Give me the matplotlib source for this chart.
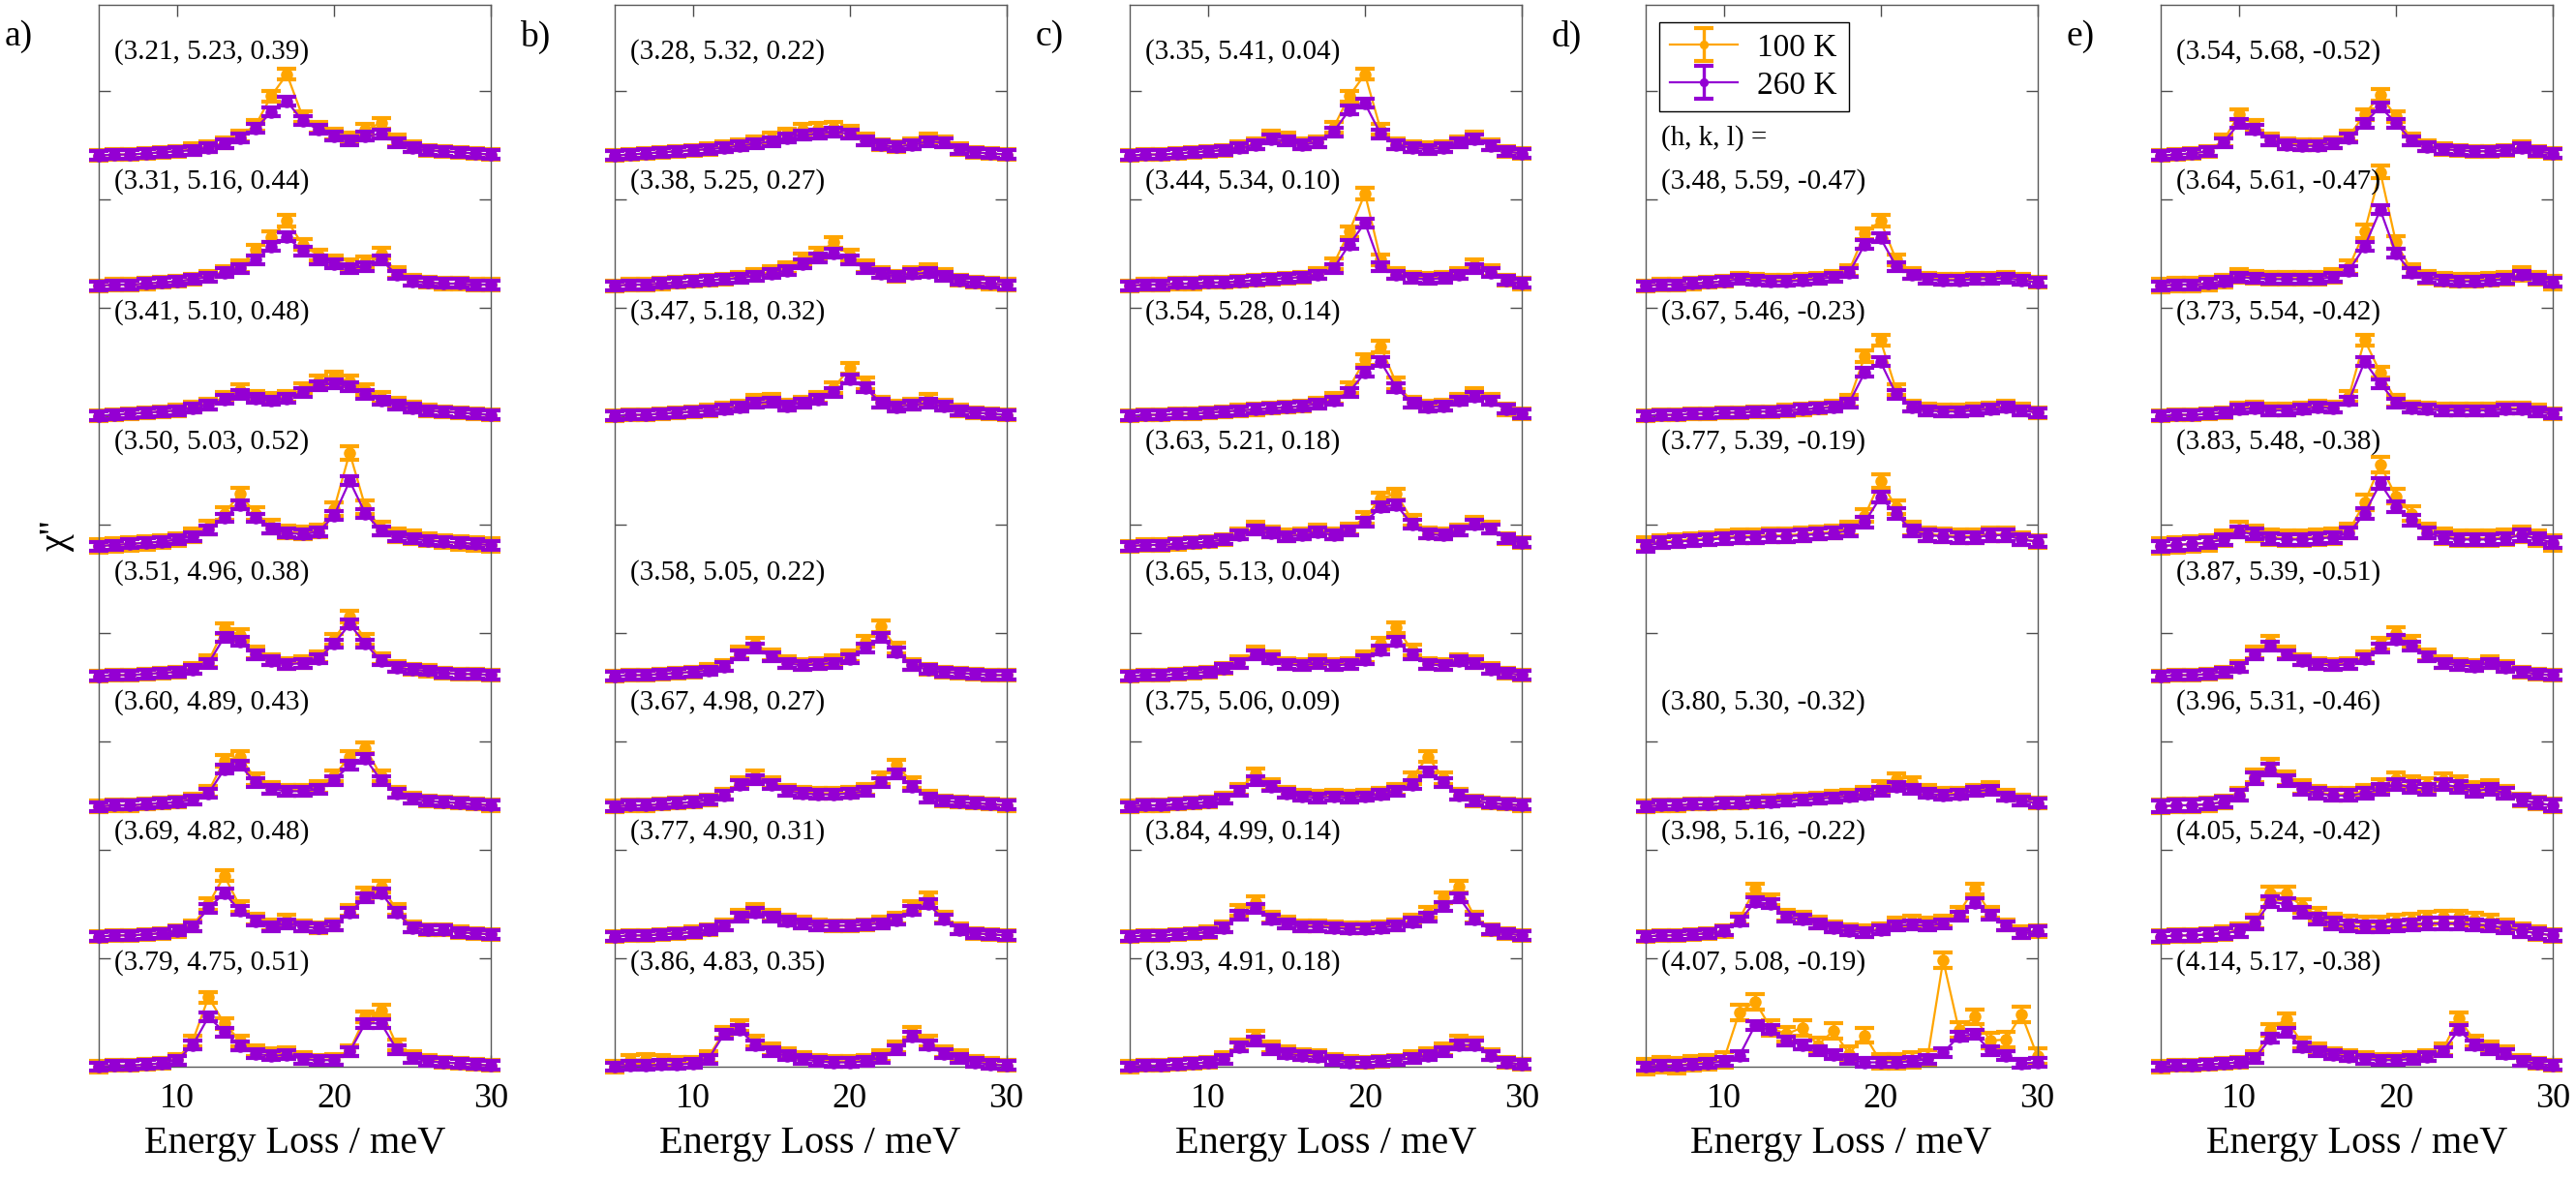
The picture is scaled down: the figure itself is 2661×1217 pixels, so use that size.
import numpy as np
import matplotlib.pyplot as plt

plt.rcParams["font.family"] = "serif"
plt.rcParams["font.serif"] = ["Liberation Serif", "DejaVu Serif"]

# energy grid of the read-off values (meV)
energy = list(range(5, 31))

# (h, k, l) of each cut, top slot first; None marks an empty slot
hkl_a = ["(3.21, 5.23, 0.39)", "(3.31, 5.16, 0.44)", "(3.41, 5.10, 0.48)", "(3.50, 5.03, 0.52)",
         "(3.51, 4.96, 0.38)", "(3.60, 4.89, 0.43)", "(3.69, 4.82, 0.48)", "(3.79, 4.75, 0.51)"]
hkl_b = ["(3.28, 5.32, 0.22)", "(3.38, 5.25, 0.27)", "(3.47, 5.18, 0.32)", None,
         "(3.58, 5.05, 0.22)", "(3.67, 4.98, 0.27)", "(3.77, 4.90, 0.31)", "(3.86, 4.83, 0.35)"]
hkl_c = ["(3.35, 5.41, 0.04)", "(3.44, 5.34, 0.10)", "(3.54, 5.28, 0.14)", "(3.63, 5.21, 0.18)",
         "(3.65, 5.13, 0.04)", "(3.75, 5.06, 0.09)", "(3.84, 4.99, 0.14)", "(3.93, 4.91, 0.18)"]
hkl_d = [None, "(3.48, 5.59, -0.47)", "(3.67, 5.46, -0.23)", "(3.77, 5.39, -0.19)", None,
         "(3.80, 5.30, -0.32)", "(3.98, 5.16, -0.22)", "(4.07, 5.08, -0.19)"]
hkl_e = ["(3.54, 5.68, -0.52)", "(3.64, 5.61, -0.47)", "(3.73, 5.54, -0.42)", "(3.83, 5.48, -0.38)",
         "(3.87, 5.39, -0.51)", "(3.96, 5.31, -0.46)", "(4.05, 5.24, -0.42)", "(4.14, 5.17, -0.38)"]

# chi'' above each baseline, in hundredths of a tick step, 5..30 meV
a_260 = [
    [0, 1, 1, 2, 3, 4, 5, 7, 11, 16, 25, 40, 50, 32, 24, 18, 14, 18, 20, 12, 7, 5, 4, 3, 2, 1],
    [0, 1, 1, 2, 3, 4, 6, 8, 12, 16, 24, 36, 45, 32, 24, 20, 16, 18, 24, 10, 4, 3, 2, 2, 1, 1],
    [0, 1, 2, 3, 4, 5, 7, 10, 15, 20, 16, 14, 16, 22, 28, 30, 27, 20, 14, 10, 7, 5, 4, 3, 2, 1],
    [0, 1, 2, 3, 4, 6, 9, 15, 26, 38, 26, 16, 12, 11, 13, 28, 60, 30, 14, 9, 7, 5, 4, 3, 2, 1],
    [0, 1, 1, 2, 3, 4, 6, 12, 36, 32, 20, 14, 11, 12, 16, 30, 48, 30, 14, 8, 6, 5, 3, 2, 2, 1],
    [0, 1, 1, 2, 3, 4, 6, 12, 34, 38, 22, 16, 14, 14, 16, 24, 38, 44, 24, 12, 7, 5, 4, 3, 2, 1],
    [0, 1, 1, 2, 3, 5, 9, 26, 40, 24, 14, 9, 12, 9, 8, 10, 22, 36, 40, 22, 8, 6, 6, 4, 3, 2],
    [0, 1, 1, 2, 3, 6, 20, 46, 32, 19, 12, 10, 11, 7, 6, 6, 14, 40, 40, 16, 8, 5, 4, 3, 2, 1],
]
a_100 = [
    [0, 1, 1, 2, 3, 4, 6, 8, 12, 18, 28, 55, 75, 36, 26, 20, 16, 24, 30, 14, 8, 5, 4, 3, 2, 1],
    [0, 1, 1, 2, 3, 4, 6, 9, 13, 18, 33, 45, 60, 38, 28, 23, 19, 22, 30, 12, 5, 3, 2, 2, 1, 1],
    [0, 1, 2, 3, 4, 5, 8, 11, 17, 24, 18, 16, 18, 25, 32, 36, 32, 24, 17, 12, 8, 5, 4, 3, 2, 1],
    [0, 1, 2, 3, 4, 6, 10, 17, 30, 48, 30, 18, 13, 12, 14, 34, 86, 36, 16, 10, 8, 6, 4, 3, 2, 1],
    [0, 1, 1, 2, 3, 4, 7, 14, 44, 38, 22, 15, 12, 13, 18, 34, 55, 34, 16, 9, 6, 5, 3, 2, 2, 1],
    [0, 1, 1, 2, 3, 4, 7, 14, 42, 46, 25, 17, 15, 15, 18, 28, 46, 54, 28, 13, 8, 5, 4, 3, 2, 1],
    [0, 1, 1, 2, 3, 5, 10, 30, 56, 28, 16, 11, 15, 10, 8, 11, 24, 40, 46, 25, 9, 6, 6, 4, 3, 2],
    [0, 1, 1, 2, 3, 7, 24, 64, 40, 24, 15, 12, 13, 8, 6, 7, 15, 46, 52, 20, 9, 6, 4, 3, 2, 1],
]
b_260 = [
    [0, 1, 2, 3, 4, 5, 6, 7, 9, 11, 13, 16, 19, 20, 22, 20, 14, 10, 8, 10, 13, 12, 6, 3, 2, 1],
    [0, 1, 1, 2, 3, 4, 5, 6, 7, 9, 11, 14, 20, 26, 30, 24, 16, 11, 9, 11, 12, 9, 5, 3, 2, 1],
    [0, 1, 1, 2, 3, 4, 5, 6, 8, 12, 13, 9, 12, 15, 22, 34, 26, 12, 8, 10, 12, 9, 5, 3, 2, 1],
    None,
    [0, 1, 1, 2, 3, 4, 5, 9, 20, 26, 18, 12, 10, 11, 12, 16, 26, 36, 22, 10, 6, 4, 3, 2, 1, 1],
    [0, 1, 1, 2, 3, 4, 6, 10, 20, 25, 20, 14, 12, 11, 11, 12, 14, 22, 30, 18, 8, 5, 4, 3, 2, 1],
    [0, 1, 1, 2, 3, 4, 6, 10, 18, 22, 18, 14, 12, 10, 10, 10, 11, 12, 15, 24, 30, 16, 6, 3, 2, 1],
    [0, 1, 1, 2, 2, 3, 7, 30, 34, 20, 14, 10, 7, 5, 4, 4, 5, 8, 16, 28, 20, 12, 8, 4, 2, 1],
]
b_100 = [
    [0, 1, 2, 3, 4, 5, 6, 8, 10, 13, 16, 20, 24, 25, 26, 22, 15, 10, 8, 11, 15, 13, 6, 3, 2, 1],
    [0, 1, 1, 2, 3, 4, 5, 6, 8, 10, 13, 17, 25, 30, 40, 28, 18, 12, 9, 12, 15, 10, 5, 3, 2, 1],
    [0, 1, 1, 2, 3, 4, 5, 7, 9, 14, 15, 10, 13, 17, 26, 44, 30, 13, 9, 11, 15, 10, 5, 3, 2, 1],
    None,
    [0, 1, 1, 2, 3, 4, 6, 10, 22, 30, 20, 13, 11, 12, 14, 19, 32, 46, 26, 11, 6, 4, 3, 2, 1, 1],
    [0, 1, 1, 2, 3, 4, 6, 11, 22, 28, 22, 15, 13, 12, 12, 13, 16, 26, 38, 22, 9, 5, 4, 3, 2, 1],
    [0, 1, 1, 2, 3, 4, 6, 11, 20, 25, 20, 15, 13, 11, 10, 10, 11, 13, 17, 28, 36, 18, 7, 3, 2, 1],
    [0, 6, 7, 6, 4, 4, 9, 32, 38, 24, 16, 12, 8, 6, 5, 5, 6, 10, 18, 32, 24, 14, 10, 5, 3, 1],
]
c_260 = [
    [0, 1, 1, 2, 3, 4, 5, 7, 10, 15, 14, 10, 12, 22, 42, 48, 20, 10, 7, 6, 7, 12, 15, 9, 4, 2],
    [0, 1, 1, 2, 2, 3, 3, 4, 5, 6, 7, 8, 10, 16, 38, 58, 18, 10, 7, 6, 7, 10, 16, 12, 5, 2],
    [0, 1, 1, 2, 2, 3, 4, 5, 6, 7, 8, 9, 11, 14, 22, 40, 50, 26, 12, 8, 9, 14, 18, 14, 6, 2],
    [0, 1, 1, 2, 3, 4, 6, 10, 15, 12, 9, 10, 13, 10, 14, 22, 36, 38, 20, 11, 10, 14, 20, 16, 7, 3],
    [0, 1, 1, 2, 3, 4, 7, 12, 20, 16, 11, 10, 12, 10, 11, 15, 24, 32, 20, 11, 10, 14, 12, 6, 3, 1],
    [0, 1, 1, 2, 3, 4, 7, 14, 24, 18, 12, 9, 8, 9, 8, 9, 11, 14, 20, 32, 22, 10, 5, 3, 2, 1],
    [0, 1, 1, 2, 3, 4, 8, 20, 26, 16, 12, 9, 9, 8, 7, 7, 8, 10, 13, 18, 28, 36, 16, 6, 3, 1],
    [0, 1, 1, 2, 3, 4, 7, 18, 24, 16, 12, 10, 9, 6, 4, 4, 5, 6, 8, 10, 14, 20, 20, 10, 4, 2],
]
c_100 = [
    [0, 1, 1, 2, 3, 4, 5, 8, 11, 18, 16, 11, 13, 26, 55, 75, 24, 11, 8, 7, 8, 13, 17, 10, 4, 2],
    [0, 1, 1, 2, 2, 3, 3, 4, 5, 6, 7, 8, 11, 20, 50, 85, 24, 11, 8, 7, 8, 11, 19, 14, 5, 2],
    [0, 1, 1, 2, 2, 3, 4, 5, 6, 7, 8, 9, 12, 16, 26, 52, 64, 30, 13, 9, 10, 15, 21, 15, 6, 2],
    [0, 1, 1, 2, 3, 4, 6, 11, 17, 13, 10, 11, 15, 11, 16, 26, 44, 48, 24, 12, 11, 15, 22, 17, 7, 3],
    [0, 1, 1, 2, 3, 4, 7, 13, 22, 18, 12, 11, 14, 11, 12, 18, 30, 45, 24, 12, 11, 15, 13, 7, 3, 1],
    [0, 1, 1, 2, 3, 4, 8, 16, 30, 20, 13, 10, 9, 10, 9, 10, 12, 16, 26, 46, 26, 11, 5, 3, 2, 1],
    [0, 1, 1, 2, 3, 4, 9, 24, 32, 18, 13, 10, 10, 9, 8, 8, 9, 11, 15, 22, 36, 46, 18, 6, 3, 1],
    [0, 1, 1, 2, 3, 4, 8, 20, 28, 18, 14, 11, 10, 7, 5, 4, 5, 6, 9, 12, 16, 24, 22, 11, 4, 2],
]
d_260 = [
    None,
    [0, 1, 1, 2, 3, 4, 6, 5, 4, 4, 5, 6, 8, 12, 38, 44, 18, 10, 6, 5, 5, 6, 6, 7, 5, 3],
    [0, 1, 1, 2, 2, 3, 3, 4, 4, 5, 6, 7, 8, 12, 40, 50, 20, 8, 5, 4, 4, 5, 6, 8, 5, 3],
    [0, 3, 4, 5, 6, 7, 8, 8, 9, 9, 10, 11, 12, 14, 22, 45, 30, 14, 10, 9, 8, 8, 10, 10, 6, 4],
    None,
    [0, 1, 1, 2, 2, 3, 3, 4, 4, 5, 6, 7, 8, 9, 11, 14, 18, 16, 12, 10, 11, 14, 15, 9, 5, 3],
    [0, 1, 1, 2, 3, 5, 14, 32, 30, 18, 16, 12, 8, 5, 4, 6, 10, 11, 10, 12, 19, 31, 20, 10, 3, 5],
    [0, 1, 1, 2, 3, 5, 10, 38, 34, 24, 20, 15, 11, 7, 4, 4, 4, 5, 7, 13, 28, 30, 15, 10, 3, 4],
]
d_100 = [
    None,
    [0, 1, 1, 2, 3, 4, 7, 6, 5, 5, 6, 7, 9, 14, 48, 60, 24, 11, 7, 6, 6, 7, 7, 8, 6, 3],
    [0, 1, 1, 2, 2, 3, 3, 4, 4, 5, 6, 7, 9, 14, 55, 70, 24, 9, 6, 5, 5, 6, 7, 9, 6, 3],
    [2, 4, 5, 6, 7, 8, 9, 9, 10, 10, 11, 12, 13, 16, 28, 60, 36, 16, 11, 10, 9, 9, 11, 11, 7, 4],
    None,
    [0, 1, 1, 2, 2, 3, 3, 4, 5, 6, 7, 8, 9, 10, 13, 18, 25, 22, 15, 12, 12, 15, 17, 10, 6, 3],
    [0, 1, 1, 2, 3, 5, 16, 44, 34, 20, 18, 13, 9, 6, 5, 7, 12, 14, 12, 14, 22, 44, 22, 11, 4, 5],
    [0, 2, 1, 3, 4, 6, 50, 60, 36, 30, 36, 20, 33, 12, 29, 5, 5, 6, 8, 98, 34, 46, 24, 25, 48, 10],
]
e_260 = [
    [0, 1, 2, 4, 12, 30, 24, 14, 10, 9, 9, 11, 16, 30, 45, 30, 14, 8, 6, 5, 4, 4, 5, 7, 4, 2],
    [0, 1, 1, 2, 4, 8, 7, 6, 6, 6, 6, 8, 14, 36, 70, 30, 12, 7, 5, 4, 4, 5, 6, 10, 6, 3],
    [0, 1, 1, 2, 3, 6, 7, 5, 5, 6, 8, 7, 14, 50, 30, 12, 7, 6, 5, 5, 5, 5, 6, 6, 4, 2],
    [0, 1, 2, 3, 6, 13, 11, 7, 6, 6, 7, 8, 12, 30, 58, 36, 24, 12, 8, 6, 6, 6, 7, 10, 7, 3],
    [0, 1, 1, 2, 4, 8, 20, 28, 20, 14, 11, 10, 11, 16, 26, 34, 28, 18, 12, 10, 9, 12, 8, 4, 2, 1],
    [0, 1, 1, 2, 4, 10, 26, 34, 24, 16, 12, 10, 10, 12, 16, 20, 18, 16, 20, 18, 14, 16, 12, 6, 3, 1],
    [0, 1, 1, 2, 3, 5, 12, 32, 30, 22, 16, 12, 10, 9, 9, 10, 11, 12, 12, 12, 11, 10, 8, 5, 3, 1],
    [0, 1, 1, 2, 3, 4, 8, 26, 32, 18, 14, 11, 9, 7, 6, 6, 7, 9, 14, 34, 20, 16, 12, 5, 3, 1],
]
e_100 = [
    [0, 1, 2, 4, 14, 38, 28, 15, 11, 10, 10, 12, 18, 38, 56, 36, 15, 9, 6, 5, 4, 4, 5, 8, 4, 2],
    [0, 1, 1, 2, 4, 9, 8, 7, 7, 7, 7, 9, 17, 50, 105, 40, 14, 8, 6, 5, 5, 6, 7, 11, 7, 3],
    [0, 1, 1, 2, 3, 7, 8, 6, 6, 7, 9, 8, 18, 70, 40, 14, 8, 7, 6, 6, 6, 6, 7, 7, 5, 2],
    [0, 1, 2, 3, 7, 15, 12, 8, 7, 7, 8, 9, 14, 40, 75, 46, 30, 14, 9, 7, 7, 7, 8, 11, 7, 3],
    [0, 1, 1, 2, 4, 9, 22, 32, 22, 15, 12, 11, 12, 18, 30, 40, 32, 20, 13, 11, 10, 13, 9, 4, 2, 1],
    [0, 1, 1, 2, 4, 11, 28, 38, 26, 18, 13, 11, 11, 14, 19, 25, 22, 20, 24, 22, 16, 18, 13, 6, 3, 1],
    [0, 1, 1, 2, 3, 6, 14, 40, 40, 28, 20, 15, 13, 12, 12, 14, 15, 17, 18, 18, 16, 14, 10, 6, 3, 1],
    [0, 1, 1, 2, 3, 4, 9, 34, 44, 22, 16, 12, 10, 8, 7, 7, 8, 10, 16, 45, 24, 18, 14, 6, 3, 1],
]

# typical half-length of the error bars, same units, one per slot
err_a_260 = [4, 4, 4, 4, 4, 4, 4, 4]
err_a_100 = [5, 5, 5, 6, 5, 5, 5, 5]
err_b_260 = [4, 4, 4, 4, 4, 4, 4, 4]
err_b_100 = [5, 5, 5, 5, 5, 5, 5, 5]
err_c_260 = [4, 4, 4, 4, 4, 4, 4, 4]
err_c_100 = [5, 5, 5, 5, 5, 5, 5, 5]
err_d_260 = [4, 4, 4, 5, 4, 4, 4, 4]
err_d_100 = [5, 5, 5, 6, 5, 5, 5, 7]
err_e_260 = [4, 4, 4, 5, 4, 5, 5, 4]
err_e_100 = [5, 6, 5, 7, 5, 6, 6, 5]

panels = [
    ("a)", hkl_a, a_100, a_260, err_a_100, err_a_260),
    ("b)", hkl_b, b_100, b_260, err_b_100, err_b_260),
    ("c)", hkl_c, c_100, c_260, err_c_100, err_c_260),
    ("d)", hkl_d, d_100, d_260, err_d_100, err_d_260),
    ("e)", hkl_e, e_100, e_260, err_e_100, err_e_260),
]

col100 = "#FFA500"
col260 = "#9400D3"
step = 1.2  # vertical offset between cuts, in tick steps

W, H = 2661, 1217
fig = plt.figure(figsize=(W / 100, H / 100), dpi=100)


def draw(ax, x, y, e, col, z):
    eb = ax.errorbar(x, y, yerr=e, color=col, marker="o", ms=8, lw=1.6,
                     elinewidth=2.4, capsize=7, capthick=3.0, zorder=z)
    for art in [eb[0], *eb[1], *eb[2]]:
        art.set_clip_on(False)
    return eb


legend_handles = None
for p, (letter, hkl, v100, v260, e100, e260) in enumerate(panels):
    left = (102 + 532.5 * p) / W
    ax = fig.add_axes([left, 1 - 1102 / H, 405 / W, 1097 / H])
    for i in range(8):
        base = (7 - i) * step
        if v260[i] is not None:
            h1 = draw(ax, energy, base + np.array(v100[i]) / 100, e100[i] / 100, col100, 2)
            h2 = draw(ax, energy, base + np.array(v260[i]) / 100, e260[i] / 100, col260, 3)
            if letter == "d)" and legend_handles is None:
                legend_handles = [h1, h2]
        if hkl[i] is not None:
            ax.text(6.0, base + 0.96, hkl[i], fontsize=21, ha="left", va="center", zorder=5)
    ax.set_xlim(5, 30)
    ax.set_ylim(0, 9.79)
    ax.set_xticks([10, 20, 30])
    ax.set_yticks(np.arange(0, 10))
    ax.set_yticklabels([])
    ax.tick_params(direction="in", top=True, right=True, length=8.5, width=1,
                   color="0.3", labelsize=26, pad=12)
    for s in ax.spines.values():
        s.set_color("0.35")
        s.set_linewidth(1.0)
    ax.set_xlabel("Energy Loss / meV", fontsize=29, labelpad=8)
    fig.text(left - 97 / W, 1 - 38 / H, letter, fontsize=27, ha="left", va="center")
    if p == 0:
        ax.set_ylabel("χ''", fontsize=29, labelpad=6)
    if letter == "d)":
        ax.text(6.0, 8.56, "(h, k, l) =", fontsize=21, ha="left", va="center")
        ax.legend(legend_handles, ["100 K", "260 K"], loc="upper left",
                  bbox_to_anchor=(0.035, 0.984), borderaxespad=0, fontsize=24,
                  fancybox=False, edgecolor="black", framealpha=1,
                  handlelength=2.1, labelspacing=0.25, borderpad=0.35,
                  handletextpad=0.6, markerscale=0.7)

fig.savefig("out.png", dpi=100)
